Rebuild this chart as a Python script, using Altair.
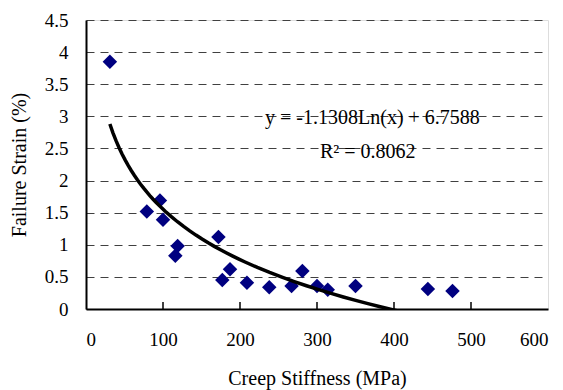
import altair as alt
import pandas as pd

stiffness = [31, 79, 96, 100, 116, 119, 172, 177, 187, 209, 238, 267, 281, 300, 314, 350, 444, 476]
strain = [3.85, 1.52, 1.69, 1.39, 0.83, 0.98, 1.12, 0.45, 0.62, 0.41, 0.34, 0.36, 0.59, 0.36, 0.30, 0.36, 0.31, 0.28]
x_ticks = [0, 100, 200, 300, 400, 500, 600]
y_ticks = [0, 0.5, 1, 1.5, 2, 2.5, 3, 3.5, 4, 4.5]
inner_ticks = [100, 200, 300, 400, 500]
eq_text = ["y = -1.1308Ln(x) + 6.7588", "R² = 0.8062"]
eq_x = [372, 366]
eq_y = [2.97, 2.44]

FONT = "Liberation Serif"

df = pd.DataFrame({"stiffness": stiffness, "strain": strain})
ticks_df = pd.DataFrame({"stiffness": inner_ticks, "strain": [0] * len(inner_ticks), "y1": [0.11] * len(inner_ticks)})
txt_df = pd.DataFrame({"label": eq_text, "stiffness": eq_x, "strain": eq_y})

xs = alt.Scale(domain=[0, 600], nice=False, zero=False)
ys = alt.Scale(domain=[0, 4.5], nice=False)

xaxis = alt.Axis(values=x_ticks, title="Creep Stiffness (MPa)", grid=False, ticks=False,
                 domainColor="black", domainWidth=2, labelPadding=21, titlePadding=19,
                 labelOverlap=False)
yaxis = alt.Axis(values=y_ticks, title="Failure Strain (%)", grid=True, gridDash=[8, 6],
                 gridColor="#404040", gridWidth=1, ticks=False, domainColor="black", domainWidth=2,
                 labelPadding=18, titlePadding=15, format="~g", labelOverlap=False)

X = alt.X("stiffness:Q", scale=xs, axis=xaxis)
Y = alt.Y("strain:Q", scale=ys, axis=yaxis)

base = alt.Chart(df)

points = base.mark_point(shape="diamond", filled=True, size=210, color="#000080", opacity=1).encode(x=X, y=Y)

trend = base.transform_regression("stiffness", "strain", method="log", extent=[31, 430]).mark_line(
    color="black", strokeWidth=3.5, clip=True
).encode(x=X, y=Y)

tick_rules = alt.Chart(ticks_df).mark_rule(color="black", strokeWidth=1.5).encode(x=X, y=Y, y2="y1:Q")

text = alt.Chart(txt_df).mark_text(font=FONT, fontSize=20, color="black").encode(x=X, y=Y, text="label:N")

chart = alt.layer(points, trend, tick_rules, text).properties(
    width=462, height=289,
    autosize=alt.AutoSizeParams(type="none"),
    padding={"left": 78, "top": 12, "right": 7, "bottom": 81},
).configure_view(stroke="#8c8c8c", strokeWidth=2.5).configure(background="white").configure_axis(
    labelFont=FONT, labelFontSize=19, titleFont=FONT, titleFontSize=20,
    titleFontWeight="normal", labelColor="black", titleColor="black"
)

chart.save("out.html", embed_options={"renderer": "svg", "actions": False})
